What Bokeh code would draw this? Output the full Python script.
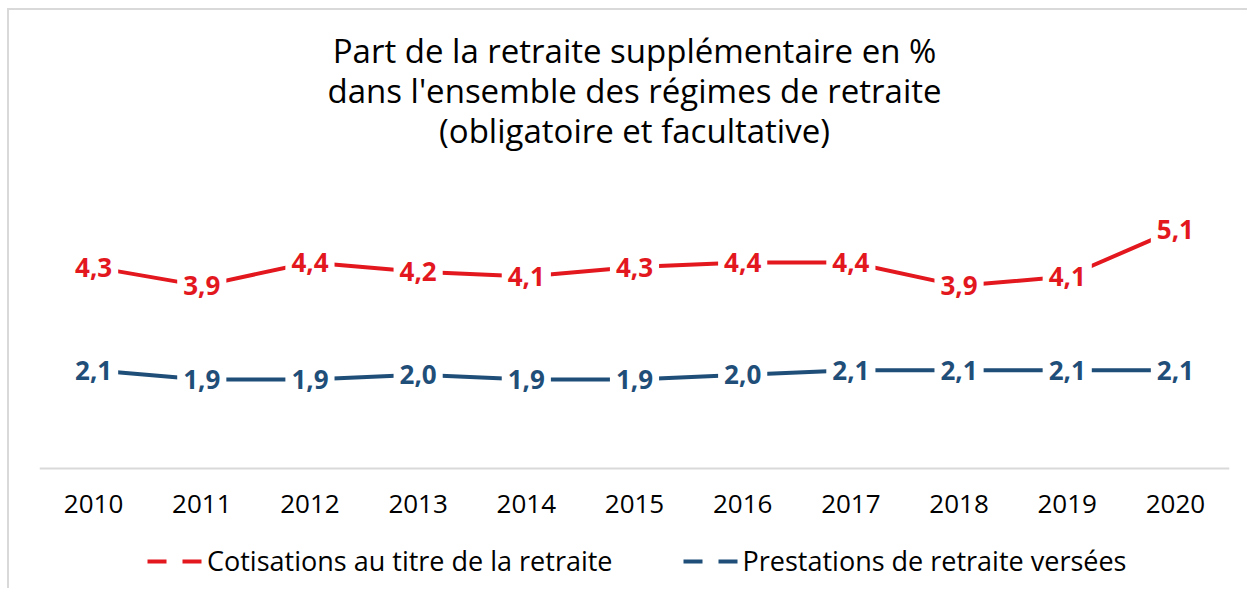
from bokeh.plotting import figure
from bokeh.models import (ColumnDataSource, LabelSet, Label, Legend, LegendItem,
                          Range1d, FactorRange, Text)
from bokeh.core.properties import value
from bokeh.embed import file_html
from bokeh.resources import INLINE

years = ["2010", "2011", "2012", "2013", "2014", "2015", "2016", "2017", "2018", "2019", "2020"]
cotisations = [4.3, 3.9, 4.4, 4.2, 4.1, 4.3, 4.4, 4.4, 3.9, 4.1, 5.1]
prestations = [2.1, 1.9, 1.9, 2.0, 1.9, 1.9, 2.0, 2.1, 2.1, 2.1, 2.1]
series_names = ["Cotisations au titre de la retraite", "Prestations de retraite versées"]
title_lines = ["Part de la retraite supplémentaire en %",
               "dans l'ensemble des régimes de retraite",
               "(obligatoire et facultative)"]

FONT = "Open Sans"
RED = "#E3171E"
BLUE = "#1F4E79"
GRAY = "#d9d9d9"

def fmt(v):
    return f"{v:.1f}".replace(".", ",")

src = ColumnDataSource(dict(
    year=years,
    cot=cotisations,
    pre=prestations,
    cot_lbl=[fmt(v) for v in cotisations],
    pre_lbl=[fmt(v) for v in prestations],
))

# layout in canvas pixels (canvas = 1240 x 580, frame spans the full height)
W, H = 1240, 580
ML, MR = 30, 20
AXIS_Y = 458          # canvas y of value 0
TOP_Y = 177           # canvas y of value 6
YMAX = 6.0
ppu = (AXIS_Y - TOP_Y) / YMAX
y_start = -(H - AXIS_Y) / ppu
y_end = AXIS_Y / ppu

p = figure(x_range=FactorRange(*years), y_range=Range1d(y_start, y_end),
           width=W, height=H, output_backend="svg", toolbar_location=None,
           min_border_left=ML, min_border_right=MR, min_border_top=0,
           min_border_bottom=0)
p.styles = {"border-top": f"2px solid {GRAY}", "border-left": f"2px solid {GRAY}",
            "margin-top": "8px", "margin-left": "7px"}

p.outline_line_color = None
p.xgrid.visible = False
p.ygrid.visible = False
p.yaxis.visible = False
p.xaxis.fixed_location = 0
p.xaxis.axis_line_color = GRAY
p.xaxis.axis_line_width = 2
p.xaxis.major_tick_line_color = None
p.xaxis.minor_tick_line_color = None
p.xaxis.major_label_standoff = 20
p.xaxis.major_label_text_font = FONT
p.xaxis.major_label_text_font_size = "26px"
p.xaxis.major_label_text_color = "#000000"

p.line(x="year", y="cot", source=src, line_color=RED, line_width=4)
p.line(x="year", y="pre", source=src, line_color=BLUE, line_width=4)

use_glyph = "padding" in Text.properties() and "background_fill_color" in Text.properties()
for col, lbl, color in (("cot", "cot_lbl", RED), ("pre", "pre_lbl", BLUE)):
    common = dict(text_align="center", text_baseline="middle", text_color=color,
                  text_font=value(FONT), text_font_style="bold", text_font_size="26px")
    if use_glyph:
        p.text(x="year", y=col, text=lbl, source=src, background_fill_color="white",
               padding=6, **common)
    else:
        p.add_layout(LabelSet(x="year", y=col, text=lbl, source=src,
                              background_fill_color="white", **common))

frame_w = W - ML - MR
for i, t in enumerate(title_lines):
    p.add_layout(Label(x=frame_w / 2, y=H - (40 + 40 * i), x_units="screen",
                       y_units="screen", text=t, text_align="center",
                       text_baseline="middle", text_font=FONT, text_font_size="33px",
                       text_color="#000000"))

nan = float("nan")
r1 = p.line(x=[years[0]], y=[nan], line_color=RED, line_width=4, line_dash="19 16")
r2 = p.line(x=[years[0]], y=[nan], line_color=BLUE, line_width=4, line_dash="19 16")
legend = Legend(items=[LegendItem(label=series_names[0], renderers=[r1]),
                       LegendItem(label=series_names[1], renderers=[r2])],
                orientation="horizontal", location=(108, 11), glyph_width=56,
                glyph_height=30, label_height=30,
                label_standoff=4, spacing=70, label_text_font=FONT,
                label_text_font_size="27px", label_text_color="#000000",
                border_line_color=None, background_fill_alpha=0, padding=0, margin=0)
p.add_layout(legend)

open("out.html", "w").write(file_html(p, INLINE))
